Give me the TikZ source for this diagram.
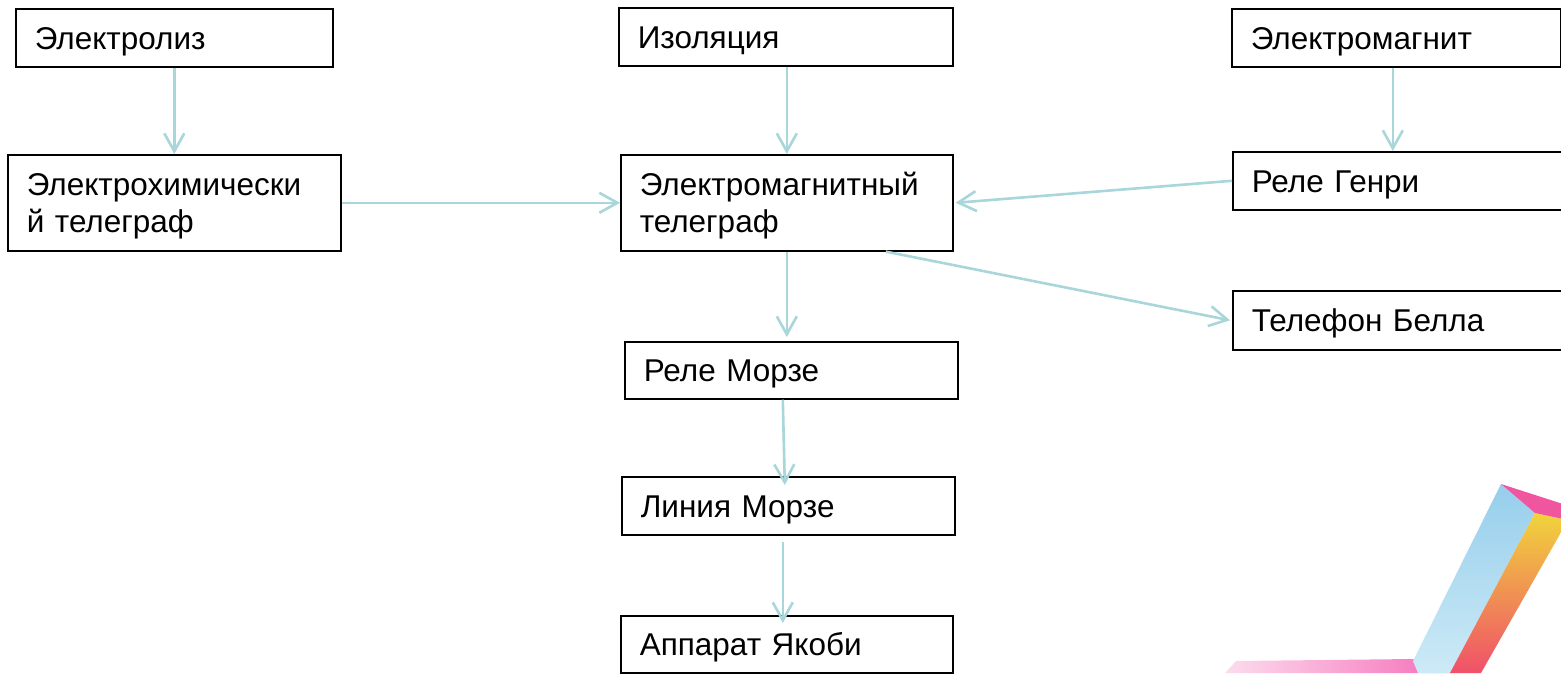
\documentclass[tikz,border=0pt]{standalone}
\usepackage{fontspec}
\setmainfont{Liberation Sans}
\usetikzlibrary{arrows.meta}

\definecolor{linkcol}{RGB}{168,214,219}
\definecolor{barblue}{RGB}{150,206,236}
\definecolor{barpale}{RGB}{205,234,246}
\definecolor{baryellow}{RGB}{240,212,60}
\definecolor{barorange}{RGB}{245,150,75}
\definecolor{barred}{RGB}{240,80,105}
\definecolor{barpink}{RGB}{240,85,160}
\definecolor{basepink}{RGB}{245,110,185}
\definecolor{basefade}{RGB}{252,220,238}

\tikzset{
  box/.style={draw=black, line width=1.6pt, rectangle, anchor=north west,
    inner xsep=19pt, inner ysep=0pt, align=left,
    font=\fontsize{31.5}{37}\selectfont, text height=23pt, text depth=0pt},
  twoline/.style={text depth=37pt},
  link/.style={draw=linkcol, line width=2.6pt,
    -{Straight Barb[length=18pt,width=20pt]}},
}

\begin{document}
\begin{tikzpicture}[x=1pt, y=-1pt]
\useasboundingbox (0,0) rectangle (1561,673);
\clip (0,0) rectangle (1561,673);

% decorative bar in the lower right corner
\shade[left color=basefade, right color=basepink]
  (1225,673) -- (1236,661) -- (1413,659) -- (1452,673) -- cycle;
\shade[top color=barblue, bottom color=barpale]
  (1413,661) -- (1501,484) -- (1535,513) -- (1450,673) -- (1418,673) -- cycle;
\shade[top color=baryellow, middle color=barorange, bottom color=barred]
  (1450,673) -- (1535,513) -- (1568,520) -- (1481,673) -- cycle;
\fill[barpink] (1501,484) -- (1566,505) -- (1568,520) -- (1535,513) -- cycle;

% left column
\node[box, minimum width=317pt, minimum height=58pt, text width=279pt] (el) at (15,8) {Электролиз};
\node[box, twoline, minimum width=333pt, minimum height=96pt, text width=295pt] (ech) at (7,154) {Электрохимически\\й телеграф};

% middle column
\node[box, minimum width=334pt, minimum height=58pt, text width=296pt] (iso) at (618,7) {Изоляция};
\node[box, twoline, minimum width=332pt, minimum height=96pt, text width=294pt] (emt) at (620,154) {Электромагнитный\\телеграф};
\node[box, minimum width=333pt, minimum height=57pt, text width=295pt] (rm) at (624,341) {Реле Морзе};
\node[box, minimum width=333pt, minimum height=58pt, text width=295pt] (lm) at (621,476) {Линия Морзе};
\node[box, minimum width=332pt, minimum height=57pt, text width=294pt] (ay) at (620,615) {Аппарат Якоби};

% right column
\node[box, minimum width=329pt, minimum height=58pt, text width=291pt] (emg) at (1231,8) {Электромагнит};
\node[box, minimum width=335pt, minimum height=58pt, text width=297pt] (rg) at (1232,151) {Реле Генри};
\node[box, minimum width=335pt, minimum height=59pt, text width=297pt] (tb) at (1232,290) {Телефон Белла};

% connectors
\draw[link] (el.south) -- (ech.north);
\draw[link] ([xshift=1pt]iso.south) -- (emt.north);
\draw[link] ([xshift=-3.5pt]emg.south) -- ([xshift=-7.5pt]rg.north);
\draw[link] (ech.east) -- (emt.west);
\draw[link] (rg.west) -- ([xshift=2pt]emt.east);
\draw[link] ([xshift=99pt]emt.south) -- ([xshift=-2pt]tb.west);
\draw[link] (emt.south) -- ([xshift=-4.5pt,yshift=4pt]rm.north);
\draw[link] ([xshift=-8.5pt]rm.south) -- ([xshift=-3.5pt,yshift=-9pt]lm.north);
\draw[link] ([xshift=-5.5pt,yshift=-6pt]lm.south) -- ([xshift=-4pt,yshift=-8pt]ay.north);
\end{tikzpicture}
\end{document}
